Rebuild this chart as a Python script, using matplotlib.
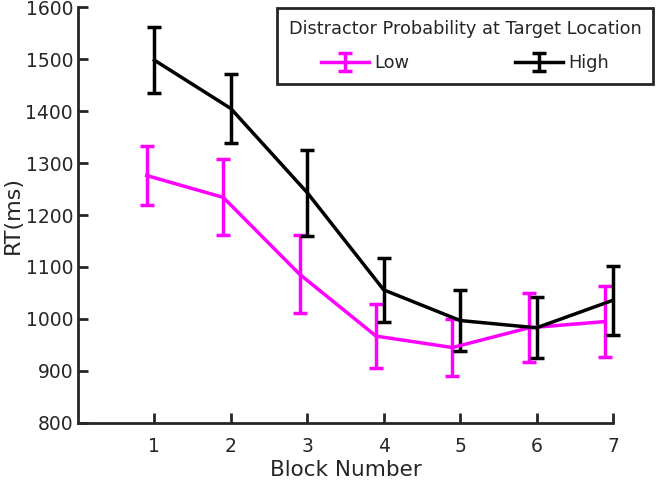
import matplotlib.pyplot as plt
import numpy as np

blocks = [1, 2, 3, 4, 5, 6, 7]
low_rt = [1276, 1234, 1086, 967, 945, 983, 995]
low_err = [56, 73, 75, 62, 55, 66, 68]
high_rt = [1498, 1405, 1243, 1056, 997, 983, 1036]
high_err = [64, 66, 83, 62, 58, 59, 66]

dark = '#262626'
plt.rcParams['font.family'] = ['DejaVu Sans']

fig = plt.figure(figsize=(6.57, 4.8), dpi=100)
ax = fig.add_axes([0.1187, 0.119, 0.8143, 0.866])

x = np.array(blocks)
for xs, y, e, c, lab in [(x - 0.1, low_rt, low_err, '#ff00ff', 'Low'),
                         (x, high_rt, high_err, 'black', 'High')]:
    cont = ax.errorbar(xs, y, yerr=e, color=c, lw=2.5, elinewidth=2.5,
                       capsize=5, capthick=2.5, label=lab)
    for art in cont.lines[1] + cont.lines[2]:
        art.set_clip_on(False)
    cont.lines[0].set_clip_on(False)

ax.set_xlim(0, 7)
ax.set_ylim(800, 1600)
ax.set_xticks(blocks)
ax.set_yticks(range(800, 1601, 100))
ax.spines['top'].set_visible(False)
ax.spines['right'].set_visible(False)
for s in ['left', 'bottom']:
    ax.spines[s].set_linewidth(2)
    ax.spines[s].set_color(dark)
ax.tick_params(direction='in', length=7, width=2, color=dark,
               labelcolor=dark, labelsize=13.5)
ax.tick_params(axis='x', pad=10)
ax.set_xlabel('Block Number', fontsize=15.5, color=dark, labelpad=3)
ax.set_ylabel('RT(ms)', fontsize=16, color=dark, labelpad=2)

leg = ax.legend(title='Distractor Probability at Target Location', ncol=2,
                loc='upper right', bbox_to_anchor=(653 / 657, 1 - 8 / 480),
                bbox_transform=fig.transFigure, fontsize=12.8,
                title_fontsize=12.8, fancybox=False, framealpha=1,
                edgecolor=dark, columnspacing=5.9, handlelength=2.7,
                handletextpad=0.3, borderpad=0.65, labelspacing=0.95,
                borderaxespad=0)
leg.get_frame().set_linewidth(2)
leg.get_title().set_color(dark)
for t in leg.get_texts():
    t.set_color(dark)

fig.savefig('out.png', dpi=100)
